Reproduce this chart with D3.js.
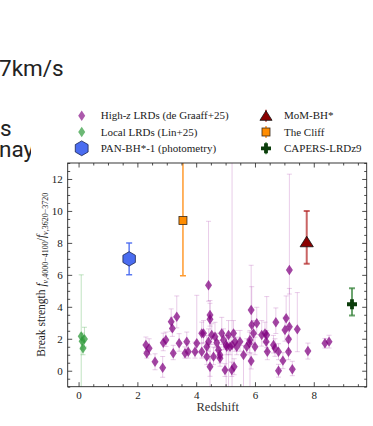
<!DOCTYPE html>
<html><head><meta charset="utf-8">
<script src="https://cdn.jsdelivr.net/npm/d3@7"></script>
<style>body{margin:0;background:#fff;overflow:hidden}svg{display:block}</style>
</head><body>
<svg id="c" width="373" height="426"></svg>
<script>
// ---------------- data ----------------
const highzX = [2.29,2.40,2.32,2.60,2.86,2.88,2.97,3.15,3.19,3.34,
                3.22,3.42,3.62,3.68,3.73,3.96,4.02,4.19,4.19,4.36,
                4.42,4.53,4.47,4.42,4.47,4.36,4.59,4.47,4.64,4.70,
                4.76,4.81,4.87,4.93,5.02,5.10,5.15,5.27,5.32,4.98,
                5.21,5.29,5.38,5.49,5.61,5.72,5.83,5.87,5.89,5.95,
                6.06,5.87,6.00,6.23,6.40,6.38,6.42,6.68,6.80,6.71,
                6.95,6.80,7.06,7.02,7.17,7.44,7.14,7.14,7.27,7.17,
                7.80,8.38,8.52,6.63,4.25,5.04,4.81,5.81,6.34,5.22];
const highzY = [1.61,1.40,1.09,0.56,0.19,1.75,1.92,3.07,2.65,3.38,
                1.09,1.72,1.09,1.82,1.19,1.19,1.72,2.34,1.19,0.88,
                1.82,2.24,3.49,5.35,3.22,1.50,0.88,0.25,2.13,1.75,
                1.30,0.78,2.34,1.92,1.61,2.24,1.50,2.34,1.82,0.04,
                0.04,0.25,1.50,1.82,0.98,1.50,1.92,3.80,2.86,2.34,
                2.97,0.61,1.50,2.24,2.24,1.82,1.19,1.40,1.19,3.03,
                0.63,0.00,3.28,2.55,2.75,2.59,1.97,1.19,0.09,6.30,
                1.23,1.72,1.82,1.61,2.34,1.50,0.98,1.72,2.34,1.60];
const highzErrHi = [0.5,0.6,0.4,0.5,0.7,0.6,0.5,0.8,0.7,1.3,
                    0.5,0.6,0.4,0.6,0.5,0.6,3.0,0.7,0.5,0.6,
                    0.8,0.7,0.9,4.0,1.0,0.7,0.6,0.5,0.9,0.6,
                    0.6,0.5,1.0,0.7,0.6,0.9,0.6,0.8,0.7,0.4,
                    0.5,0.5,0.6,0.7,0.6,0.5,0.6,2.8,2.4,0.8,
                    1.0,0.5,0.6,0.9,2.4,0.7,0.6,0.6,0.5,0.9,
                    0.5,0.4,1.4,0.8,2.4,2.3,0.8,0.6,0.5,6.0,
                    0.5,0.3,0.4,0.6,0.8,0.7,0.5,0.7,0.7,12.0];
const highzErrLo = [0.4,0.4,0.3,0.5,0.6,0.5,0.4,0.6,0.5,0.7,
                    0.4,0.5,0.3,0.5,0.4,0.4,0.6,0.6,0.4,0.5,
                    0.6,0.6,0.7,1.0,4.5,0.5,0.5,0.6,0.7,0.5,
                    0.5,0.5,0.7,0.6,3.0,4.0,0.5,0.6,0.6,0.4,
                    0.4,0.5,0.5,0.6,2.5,0.5,3.5,1.0,0.8,0.7,
                    0.7,0.5,0.5,0.7,0.8,0.6,0.5,0.5,0.5,0.7,
                    0.5,0.4,0.8,0.7,0.7,1.4,0.7,0.5,0.4,1.5,
                    0.5,0.3,0.4,0.5,0.6,0.5,0.5,0.6,0.6,3.0];

const localX = [0.09,0.20,0.15,0.12];
const localY = [2.15,1.98,1.40,1.85];
const localErrHi = [3.85,0.74,0.4,0.5];
const localErrLo = [4.0,0.5,0.4,0.5];

const panX = 1.72, panY = 7.0, panLo = 1.0, panHi = 1.0;
const cliffX = 3.55, cliffY = 9.4, cliffLo = 3.45, cliffHi = 5.0;
const momX = 7.76, momY = 8.04, momLo = 1.34, momHi = 1.96;
const capX = 9.3, capY = 4.16, capLo = 0.71, capHi = 1.0;

const xMajor = [0,2,4,6,8];
const yMajor = [0,2,4,6,8,10,12];

// ---------------- layout ----------------
const svg = d3.select("#c");
const L = 67.7, R = 366.7, T = 163, B = 386.7;
const x = d3.scaleLinear().domain([-0.37, 9.8]).range([L, R]);
const y = d3.scaleLinear().domain([-1, 13]).range([B, T]);
const serif = "'Liberation Serif','DejaVu Serif',serif";

// surrounding page text (cropped)
const page = svg.append("g").attr("font-family","Roboto,'Noto Sans',sans-serif").attr("fill","#222").attr("font-size",22.5);
page.append("text").attr("x",-1).attr("y",76).text("7km/s");
page.append("text").attr("x",0).attr("y",135.5).text("s");
page.append("text").attr("x",-1).attr("y",157).text("nay");
svg.append("rect").attr("x",31).attr("y",100).attr("width",342).attr("height",326).attr("fill","#fff");

// clip
svg.append("clipPath").attr("id","pc").append("rect").attr("x",L).attr("y",T).attr("width",R-L).attr("height",B-T);
const plot = svg.append("g").attr("clip-path","url(#pc)");

function errbar(g, cx, cy, lo, hi, color, lw, cap, op){
  const px = x(cx);
  g.append("line").attr("x1",px).attr("x2",px).attr("y1",y(cy-lo)).attr("y2",y(cy+hi))
    .attr("stroke",color).attr("stroke-width",lw).attr("stroke-opacity",op);
  [cy-lo, cy+hi].forEach(v=>{
    g.append("line").attr("x1",px-cap).attr("x2",px+cap).attr("y1",y(v)).attr("y2",y(v))
      .attr("stroke",color).attr("stroke-width",lw).attr("stroke-opacity",op);
  });
}
const thinDiamond = (w,h)=>`M0,${-h}L${w},0L0,${h}L${-w},0Z`;
const hexagon = r => d3.range(6).map(i=>{const a=Math.PI/3*i+Math.PI/6;return [r*Math.cos(a),r*Math.sin(a)];});
const hexPath = r => "M"+hexagon(r).map(p=>p.join(",")).join("L")+"Z";
const plusPath = (a,t)=>`M${-t},${-a}H${t}V${-t}H${a}V${t}H${t}V${a}H${-t}V${t}H${-a}V${-t}H${-t}Z`;
const triPath = s => `M0,${-s}L${s*1.1},${s*0.75}L${-s*1.1},${s*0.75}Z`;

// error bars
const eg = plot.append("g");
highzX.forEach((v,i)=>errbar(eg, v, highzY[i], highzErrLo[i], highzErrHi[i], "#b04ab0", 1, 2.5, 0.28));
localX.forEach((v,i)=>errbar(eg, v, localY[i], localErrLo[i], localErrHi[i], "#4caf50", 1, 2.5, 0.35));
errbar(eg, panX, panY, panLo, panHi, "#4a6cf0", 1.5, 3, 0.9);
errbar(eg, cliffX, cliffY, cliffLo, cliffHi, "#ff9a2e", 1.5, 3, 1);
errbar(eg, momX, momY, momLo, momHi, "#b22222", 2, 3, 0.7);
errbar(eg, capX, capY, capLo, capHi, "#2e7d32", 2, 3, 0.7);

// markers
const mg = plot.append("g");
mg.selectAll(".hz").data(highzX).join("path").attr("class","hz")
  .attr("d", thinDiamond(3.5,5.2)).attr("transform",(d,i)=>`translate(${x(d)},${y(highzY[i])})`)
  .attr("fill","#800080").attr("fill-opacity",0.72);
mg.selectAll(".lc").data(localX).join("path").attr("class","lc")
  .attr("d", thinDiamond(3.5,5.2)).attr("transform",(d,i)=>`translate(${x(d)},${y(localY[i])})`)
  .attr("fill","#2e9a3a").attr("fill-opacity",0.75);
mg.append("path").attr("d",hexPath(7.2)).attr("transform",`translate(${x(panX)},${y(panY)})`)
  .attr("fill","#4a6cf0").attr("stroke","#1c2650").attr("stroke-width",0.8);
mg.append("rect").attr("x",x(cliffX)-4).attr("y",y(cliffY)-4).attr("width",8).attr("height",8)
  .attr("fill","#ff8c00").attr("stroke","#3a2a1a").attr("stroke-width",0.8);
mg.append("path").attr("d",triPath(6)).attr("transform",`translate(${x(momX)},${y(momY)})`)
  .attr("fill","#8b0000").attr("stroke","#111").attr("stroke-width",0.8);
mg.append("path").attr("d",plusPath(5,1.9)).attr("transform",`translate(${x(capX)},${y(capY)})`)
  .attr("fill","#0b3d0b");

// axes (inward ticks on all four sides)
const minorX = d3.range(-0, 9.8, 0.5).filter(v=>v%2!==0);
const minorY = d3.range(-1, 13.01, 0.5).filter(v=>v%2!==0);
function styleAx(g){ g.select(".domain").remove(); g.selectAll("line").attr("stroke","#222").attr("stroke-width",0.8); }
svg.append("g").attr("transform",`translate(0,${B})`)
  .call(d3.axisBottom(x).tickValues(xMajor).tickFormat(d3.format("d")).tickSize(-4.5).tickPadding(5))
  .call(styleAx).call(g=>g.selectAll("text").attr("font-family",serif).attr("font-size",11).attr("fill","#222"));
svg.append("g").attr("transform",`translate(0,${B})`).call(d3.axisBottom(x).tickValues(minorX).tickFormat("").tickSize(-2.5)).call(styleAx);
svg.append("g").attr("transform",`translate(0,${T})`).call(d3.axisTop(x).tickValues(xMajor).tickFormat("").tickSize(-4.5)).call(styleAx);
svg.append("g").attr("transform",`translate(0,${T})`).call(d3.axisTop(x).tickValues(minorX).tickFormat("").tickSize(-2.5)).call(styleAx);
svg.append("g").attr("transform",`translate(${L},0)`)
  .call(d3.axisLeft(y).tickValues(yMajor).tickFormat(d3.format("d")).tickSize(-4.5).tickPadding(5))
  .call(styleAx).call(g=>g.selectAll("text").attr("font-family",serif).attr("font-size",11).attr("fill","#222"));
svg.append("g").attr("transform",`translate(${L},0)`).call(d3.axisLeft(y).tickValues(minorY).tickFormat("").tickSize(-2.5)).call(styleAx);
svg.append("g").attr("transform",`translate(${R},0)`).call(d3.axisRight(y).tickValues(yMajor).tickFormat("").tickSize(-4.5)).call(styleAx);
svg.append("g").attr("transform",`translate(${R},0)`).call(d3.axisRight(y).tickValues(minorY).tickFormat("").tickSize(-2.5)).call(styleAx);
svg.append("rect").attr("x",L).attr("y",T).attr("width",R-L).attr("height",B-T)
  .attr("fill","none").attr("stroke","#222").attr("stroke-width",0.9);

// axis labels
svg.append("text").attr("x",(L+R)/2+0.5).attr("y",411).attr("text-anchor","middle")
  .attr("font-family",serif).attr("font-size",12.5).attr("fill","#333").text("Redshift");
const yl = svg.append("text").attr("transform",`translate(45,${(T+B)/2}) rotate(-90)`)
  .attr("text-anchor","middle").attr("font-family",serif).attr("font-size",11.5).attr("fill","#222");
yl.append("tspan").text("Break strength ");
yl.append("tspan").attr("font-style","italic").text("f");
yl.append("tspan").attr("font-size",8).attr("dy",2.5).attr("font-style","italic").text("ν");
yl.append("tspan").attr("font-size",8).text(",4000−4100");
yl.append("tspan").attr("dy",-2.5).text("/");
yl.append("tspan").attr("font-style","italic").text("f");
yl.append("tspan").attr("font-size",8).attr("dy",2.5).attr("font-style","italic").text("ν");
yl.append("tspan").attr("font-size",8).text(",3620−3720");

// legend
const lg = svg.append("g").attr("font-family",serif).attr("font-size",11).attr("fill","#222");
const rows = [115.7,132,148.3];
const c1m = 81.7, c1t = 100.7, c2m = 266, c2t = 284;
lg.append("path").attr("d",thinDiamond(3.5,5.2)).attr("transform",`translate(${c1m},${rows[0]})`).attr("fill","#800080").attr("fill-opacity",0.65);
lg.append("path").attr("d",thinDiamond(3.5,5.2)).attr("transform",`translate(${c1m},${rows[1]})`).attr("fill","#2e9a3a").attr("fill-opacity",0.7);
lg.append("path").attr("d",hexPath(7.4)).attr("transform",`translate(${c1m},${rows[2]})`).attr("fill","#4a6cf0").attr("stroke","#1c2650").attr("stroke-width",0.8);
lg.append("line").attr("x1",c2m).attr("x2",c2m).attr("y1",rows[0]-6).attr("y2",rows[0]+6).attr("stroke","#b22222").attr("stroke-width",2).attr("stroke-opacity",0.7);
lg.append("path").attr("d",triPath(5.5)).attr("transform",`translate(${c2m},${rows[0]+0.5})`).attr("fill","#8b0000").attr("stroke","#111").attr("stroke-width",0.8);
lg.append("line").attr("x1",c2m).attr("x2",c2m).attr("y1",rows[1]-6).attr("y2",rows[1]+6).attr("stroke","#ff9a2e").attr("stroke-width",1.5);
lg.append("rect").attr("x",c2m-4).attr("y",rows[1]-4).attr("width",8).attr("height",8).attr("fill","#ff8c00").attr("stroke","#3a2a1a").attr("stroke-width",0.8);
lg.append("line").attr("x1",c2m).attr("x2",c2m).attr("y1",rows[2]-6).attr("y2",rows[2]+6).attr("stroke","#2e7d32").attr("stroke-width",2).attr("stroke-opacity",0.7);
lg.append("path").attr("d",plusPath(5,1.9)).attr("transform",`translate(${c2m},${rows[2]})`).attr("fill","#0b3d0b");
const t1 = lg.append("text").attr("x",c1t).attr("y",rows[0]+3.7);
t1.append("tspan").text("High-");
t1.append("tspan").attr("font-style","italic").text("z");
t1.append("tspan").text(" LRDs (de Graaff+25)");
lg.append("text").attr("x",c1t).attr("y",rows[1]+3.7).text("Local LRDs (Lin+25)");
lg.append("text").attr("x",c1t).attr("y",rows[2]+3.7).text("PAN-BH*-1 (photometry)");
lg.append("text").attr("x",c2t).attr("y",rows[0]+3.7).text("MoM-BH*");
lg.append("text").attr("x",c2t).attr("y",rows[1]+3.7).text("The Cliff");
lg.append("text").attr("x",c2t).attr("y",rows[2]+3.7).text("CAPERS-LRDz9");
</script>
</body></html>
